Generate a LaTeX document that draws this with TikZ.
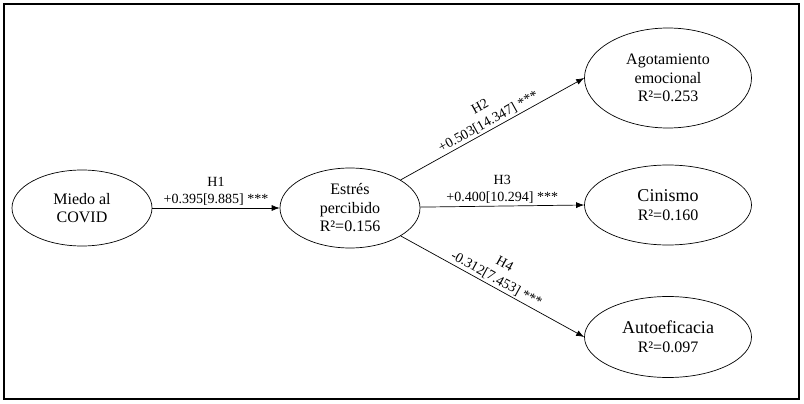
\documentclass[tikz,border=0pt]{standalone}
\usepackage{fontspec}
\setmainfont{Liberation Serif}
\usetikzlibrary{shapes.geometric}
\usetikzlibrary{arrows.meta}
\tikzset{>={Latex[length=8pt,width=6pt]}}
\tikzset{
  latent/.style={draw,ellipse,line width=0.7pt,inner sep=0pt,align=center,
    font=\fontsize{16}{18.5}\selectfont},
  effect/.style={->,line width=0.7pt},
  coef/.style={align=center,inner sep=2pt,font=\fontsize{14}{17}\selectfont}
}

\begin{document}
\begin{tikzpicture}[x=1pt,y=-1pt]
\useasboundingbox (0,0) rectangle (804,404);
\draw[line width=1.2pt] (4,4) rectangle (799,399);
% constructs
\node[latent,minimum width=140pt,minimum height=76pt] (miedo) at (82,208) {Miedo al\\COVID};
\node[latent,minimum width=140pt,minimum height=80pt] (estres) at (350,208) {Estrés\\percibido\\R²=0.156};
\node[latent,minimum width=167pt,minimum height=100pt] (agot) at (668,78) {Agotamiento\\emocional\\R²=0.253};
\node[latent,minimum width=167pt,minimum height=80pt] (cinismo) at (668,205) {{\fontsize{18}{20}\selectfont Cinismo}\\R²=0.160};
\node[latent,minimum width=167pt,minimum height=81pt] (auto) at (668,337) {{\fontsize{18}{20}\selectfont Autoeficacia}\\R²=0.097};
% paths
\draw[effect] (miedo) -- (estres) node[coef,midway,above] {H1\\+0.395[9.885] ***};
\draw[effect] (estres) -- (agot.west) node[coef,midway,above,sloped] {H2\\+0.503[14.347] ***};
\draw[effect] (estres) -- (cinismo.west) node[coef,midway,above] {H3\\+0.400[10.294] ***};
\draw[effect] (estres) -- (auto.west) node[coef,midway,above,sloped] {H4\\-0.312[7.453] ***};
\end{tikzpicture}
\end{document}
